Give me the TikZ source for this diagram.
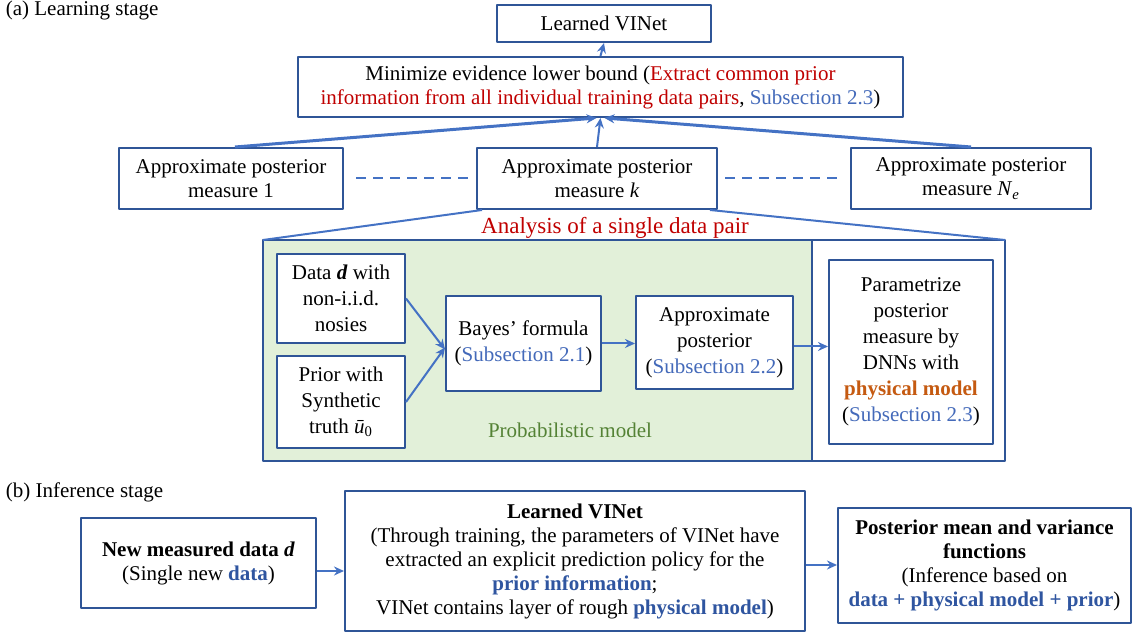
\documentclass[tikz,border=0pt]{standalone}
\usepackage{fontspec}
\setmainfont{Liberation Serif}
\usetikzlibrary{arrows.meta}
\definecolor{boxblue}{RGB}{47,85,151}
\definecolor{lineblue}{RGB}{68,114,196}
\definecolor{linkblue}{RGB}{68,106,186}
\definecolor{deepblue}{RGB}{47,85,160}
\definecolor{myred}{RGB}{192,0,0}
\definecolor{myorange}{RGB}{197,90,17}
\definecolor{greenfill}{RGB}{226,240,217}
\definecolor{greentext}{RGB}{84,130,53}
\begin{document}
\begin{tikzpicture}[x=0.5pt, y=-0.5pt, line join=bevel, thick]
  \tikzstyle{box}=[draw=boxblue, line width=1pt, fill=white, align=center, inner sep=1pt,
                   font=\fontsize{10.5pt}{12pt}\selectfont]
  \tikzstyle{pbox}=[box, font=\fontsize{10.5pt}{13pt}\selectfont]
  \tikzstyle{flow}=[draw=lineblue, line width=1pt, -{Stealth[length=5pt,width=4.5pt]}]
  \tikzstyle{stage_label}=[anchor=west, inner sep=0pt, font=\fontsize{10.5pt}{12pt}\selectfont]
  \useasboundingbox (0,0) rectangle (1132,635);

  % (a) learning stage
  \node[stage_label] (lab_a) at (5,10) {(a) Learning stage};
  \node[box, minimum width=107pt, minimum height=18.5pt] (learned) at (604,23.5) {Learned VINet};
  \node[box, minimum width=302.5pt, minimum height=30pt] (elbo) at (600.5,87)
    {Minimize evidence lower bound (\textcolor{myred}{Extract common prior}\\
     \textcolor{myred}{information from all individual training data pairs}, \textcolor{linkblue}{Subsection 2.3})};
  \node[box, minimum width=112pt, minimum height=30.5pt] (post1) at (231,178.5)
    {Approximate posterior\\ measure 1};
  \node[box, minimum width=120pt, minimum height=30.5pt] (postk) at (597,178.5)
    {Approximate posterior\\ measure \textit{k}};
  \node[box, minimum width=120pt, minimum height=30.5pt] (postN) at (971,178.5)
    {Approximate posterior\\ measure \textit{N}\textsubscript{\textit{e}}};

  \path[flow] (elbo.north) -- (learned.south);
  \path[flow] (postk.north) -- (elbo.south);
  \path[flow, line width=1.5pt] ([xshift=2pt]post1.north) -- ([xshift=-2pt]elbo.south);
  \path[flow, line width=1.5pt] (postN.north) -- ([xshift=2pt]elbo.south);
  \draw[lineblue, line width=1pt, dash pattern=on 5pt off 3.5pt, shorten <=6pt, shorten >=3.5pt]
    (post1.east) -- (postk.west);
  \draw[lineblue, line width=1pt, dash pattern=on 5pt off 3.5pt, shorten <=3.5pt, shorten >=5.5pt]
    (postk.east) -- (postN.west);

  % single data pair
  \fill[greenfill] (263,240) rectangle (812,461);
  \draw[boxblue, line width=1pt] (263,240) rectangle (1005,461);
  \draw[boxblue, line width=1pt] (812,240) -- (812,461);
  \coordinate (single_nw) at (263,240);
  \coordinate (single_ne) at (1005,240);
  \node[text=myred, font=\fontsize{11.5pt}{13pt}\selectfont] (analysis) at (615,228) {Analysis of a single data pair};
  \draw[lineblue, line width=1pt] ([xshift=3pt]postk.south west) -- (single_nw);
  \draw[lineblue, line width=1pt] ([xshift=-4pt]postk.south east) -- (single_ne);

  \node[pbox, minimum width=64pt, minimum height=44.5pt] (data) at (341,298.5)
    {Data \textbf{\textit{d}} with\\ non-i.i.d.\\ nosies};
  \node[pbox, minimum width=64pt, minimum height=46pt] (prior) at (341,402)
    {Prior with\\ Synthetic\\ truth \textit{ū}\textsubscript{0}};
  \node[pbox, minimum width=77.5pt, minimum height=47.5pt] (bayes) at (523.5,343.5)
    {Bayes' formula\\ (\textcolor{linkblue}{Subsection 2.1})};
  \node[pbox, minimum width=78.5pt, minimum height=46.5pt] (approx) at (714.5,342.5)
    {Approximate\\ posterior\\ (\textcolor{linkblue}{Subsection 2.2})};
  \node[pbox, minimum width=82pt, minimum height=92pt] (param) at (911,352)
    {Parametrize\\ posterior\\ measure by\\ DNNs with\\ \textcolor{myorange}{\textbf{physical model}}\\ (\textcolor{linkblue}{Subsection 2.3})};
  \node[text=greentext, font=\fontsize{10.5pt}{12pt}\selectfont] (prob_label) at (570,430) {Probabilistic model};

  \path[flow] (data.east) -- ([yshift=-3pt]bayes.west);
  \path[flow] (prior.east) -- ([yshift=-2pt]bayes.west);
  \path[flow] (bayes.east) -- (bayes.east -| approx.west);
  \path[flow] ([yshift=-2pt]approx.east) -- ([yshift=-2pt]approx.east -| param.west);

  % (b) inference stage
  \node[stage_label] (lab_b) at (5,492) {(b) Inference stage};
  \node[box, minimum width=117.5pt, minimum height=45pt] (newdata) at (198.5,563)
    {\textbf{New measured data \textit{d}}\\ (Single new \textcolor{deepblue}{\textbf{data}})};
  \node[box, minimum width=230pt, minimum height=70pt] (vinet) at (575,561)
    {\textbf{Learned VINet}\\
     (Through training, the parameters of VINet have\\
     extracted an explicit prediction policy for the\\
     \textcolor{deepblue}{\textbf{prior information}};\\
     VINet contains layer of rough \textcolor{deepblue}{\textbf{physical model}})};
  \node[box, minimum width=146.5pt, minimum height=57.5pt] (postmean) at (984.5,565.5)
    {\textbf{Posterior mean and variance}\\ \textbf{functions}\\ (Inference based on\\
     \textcolor{deepblue}{\textbf{data + physical model + prior}})};

  \path[flow] ([yshift=-4pt]newdata.east) -- ([yshift=-4pt]newdata.east -| vinet.west);
  \path[flow] ([yshift=-2pt]vinet.east) -- ([yshift=-2pt]vinet.east -| postmean.west);

\end{tikzpicture}
\end{document}
